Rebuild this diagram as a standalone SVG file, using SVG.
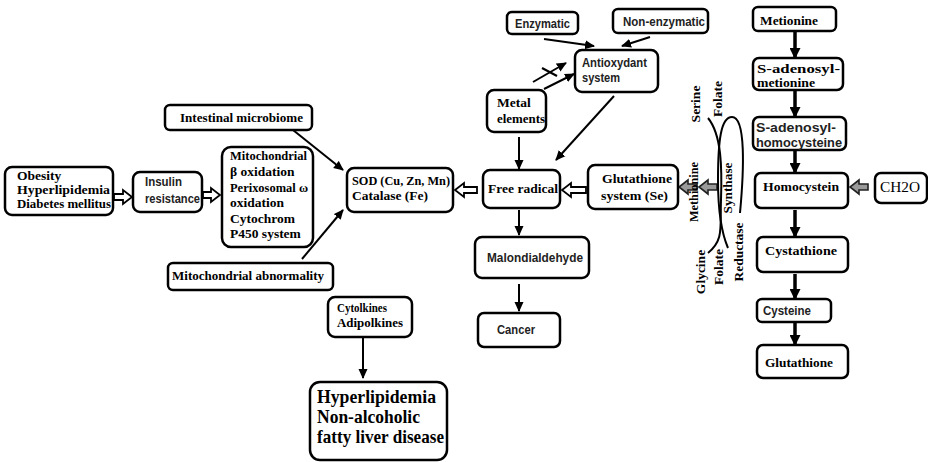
<svg xmlns="http://www.w3.org/2000/svg" width="928" height="462" viewBox="0 0 928 462">
<defs>
<marker id="ah" markerUnits="userSpaceOnUse" markerWidth="10" markerHeight="10" viewBox="0 0 10 10" refX="9" refY="5" orient="auto"><path d="M0,0.5 L10,5 L0,9.5 z" fill="#000"/></marker>
<marker id="ahb" markerUnits="userSpaceOnUse" markerWidth="11" markerHeight="11" viewBox="0 0 10 10" refX="9" refY="5" orient="auto"><path d="M0,0 L10,5 L0,10 z" fill="#000"/></marker>
</defs>
<style>
.box{fill:#fff;stroke:#000;stroke-width:2.5}
.s{font-family:"Liberation Serif","Times New Roman",serif;font-weight:bold;font-size:13.5px;fill:#000}
.a{font-family:"Liberation Sans",Arial,sans-serif;font-weight:bold;font-size:12.5px;fill:#222}
.ln{stroke:#000;stroke-width:2;fill:none;marker-end:url(#ah)}
.lb{stroke:#000;stroke-width:3.5;fill:none;marker-end:url(#ahb)}
.ho{fill:#fff;stroke:#000;stroke-width:1.8}
.hg{fill:#9a9a9a;stroke:#222;stroke-width:1.6}
.cv{fill:none;stroke:#000;stroke-width:2}
</style>
<rect width="928" height="462" fill="#fff"/>

<g id="connectors">
<line class="ln" x1="293" y1="130" x2="343" y2="170"/>
<line class="ln" x1="302" y1="259" x2="343" y2="210"/>
<line class="ln" x1="363" y1="338" x2="363" y2="378"/>
<line class="ln" x1="544" y1="39" x2="594" y2="46"/>
<line class="ln" x1="650" y1="37" x2="622" y2="46"/>
<line class="ln" x1="544" y1="89" x2="574" y2="74"/>
<line class="ln" x1="533" y1="82" x2="566" y2="63"/>
<line stroke="#000" stroke-width="2" x1="542" y1="68" x2="557" y2="76"/>
<line class="ln" x1="614" y1="96" x2="556" y2="160"/>
<line class="ln" x1="519" y1="137" x2="519" y2="169"/>
<line class="ln" x1="519" y1="210" x2="519" y2="235"/>
<line class="ln" x1="519" y1="284" x2="519" y2="311"/>
<line class="lb" x1="795" y1="32" x2="795" y2="58"/>
<line class="lb" x1="795" y1="91" x2="795" y2="117"/>
<line class="lb" x1="795" y1="150" x2="795" y2="173"/>
<line class="lb" x1="795" y1="210" x2="795" y2="237"/>
<line class="lb" x1="795" y1="274" x2="795" y2="299"/>
<line class="lb" x1="795" y1="323" x2="795" y2="345"/>
<polygon class="ho" points="114,194 123,194 123,190 132,197 123,204 123,200 114,200"/>
<polygon class="ho" points="203,192 211,192 211,188 220,195 211,202 211,198 203,198"/>
<polygon class="ho" points="477,187 464,187 464,183 455,190 464,197 464,193 477,193"/>
<polygon class="ho" points="586,187 571,187 571,183 562,190 571,197 571,193 586,193"/>
<polygon class="hg" points="717,184 708,184 708,180 699,187 708,194 708,190 717,190"/>
<polygon class="hg" points="697,184 688,184 688,180 679,187 688,194 688,190 697,190"/>
<polygon class="hg" points="868,184 859,184 859,180 850,187 859,194 859,190 868,190"/>
<path class="cv" d="M708,118 C722,135 722,170 721,200 C720,228 724,240 708,253"/>
<path class="cv" d="M740,213 C744,170 746,117 732,117 C721,117 718,140 718,180 C718,212 722,234 728,248"/>
</g>

<g id="n-obesity"><rect class="box" x="5" y="167" width="108" height="48" rx="7"/>
<text class="s" x="17" y="180">Obesity</text>
<text class="s" x="17" y="194" textLength="93" lengthAdjust="spacingAndGlyphs">Hyperlipidemia</text>
<text class="s" x="17" y="208" textLength="94" lengthAdjust="spacingAndGlyphs">Diabetes mellitus</text></g>

<g id="n-insulin"><rect class="box" x="133" y="172" width="69" height="40" rx="7"/>
<text class="a" x="145" y="186" textLength="37" lengthAdjust="spacingAndGlyphs">Insulin</text>
<text class="a" x="145" y="203" textLength="55" lengthAdjust="spacingAndGlyphs">resistance</text></g>

<g id="n-mito"><rect class="box" x="222" y="147" width="91" height="100" rx="9"/>
<text class="s" x="230" y="160" textLength="77" lengthAdjust="spacingAndGlyphs">Mitochondrial</text>
<text class="s" x="230" y="176">β oxidation</text>
<text class="s" x="230" y="192" textLength="78" lengthAdjust="spacingAndGlyphs">Perixosomal ω</text>
<text class="s" x="230" y="207">oxidation</text>
<text class="s" x="230" y="223">Cytochrom</text>
<text class="s" x="230" y="238">P450 system</text></g>

<g id="n-intestinal"><rect class="box" x="165" y="105" width="147" height="25" rx="5"/>
<text class="s" x="180" y="122" textLength="123" lengthAdjust="spacingAndGlyphs">Intestinal microbiome</text></g>

<g id="n-mitoab"><rect class="box" x="168" y="263" width="165" height="27" rx="5"/>
<text class="s" x="172" y="280" textLength="152" lengthAdjust="spacingAndGlyphs">Mitochondrial abnormality</text></g>

<g id="n-sod"><rect class="box" x="347" y="168" width="106" height="44" rx="7"/>
<text class="s" x="352" y="185" textLength="98" lengthAdjust="spacingAndGlyphs">SOD (Cu, Zn, Mn)</text>
<text class="s" x="352" y="200" textLength="76" lengthAdjust="spacingAndGlyphs">Catalase (Fe)</text></g>

<g id="n-free"><rect class="box" x="483" y="170" width="77" height="38" rx="7"/>
<text class="s" x="488" y="193" textLength="70" lengthAdjust="spacingAndGlyphs">Free radical</text></g>

<g id="n-metal"><rect class="box" x="487" y="90" width="59" height="42" rx="7"/>
<text class="s" x="497" y="107">Metal</text>
<text class="s" x="497" y="123" textLength="48" lengthAdjust="spacingAndGlyphs">elements</text></g>

<g id="n-antiox"><rect class="box" x="575" y="50" width="83" height="42" rx="7"/>
<text class="a" x="582" y="67" textLength="65" lengthAdjust="spacingAndGlyphs">Antioxydant</text>
<text class="a" x="582" y="82" textLength="38" lengthAdjust="spacingAndGlyphs">system</text></g>

<g id="n-enz"><rect class="box" x="507" y="12" width="71" height="22" rx="5"/>
<text class="a" x="515" y="28" textLength="55" lengthAdjust="spacingAndGlyphs">Enzymatic</text></g>

<g id="n-nonenz"><rect class="box" x="613" y="9" width="95" height="24" rx="5"/>
<text class="a" x="623" y="26" textLength="82" lengthAdjust="spacingAndGlyphs">Non-enzymatic</text></g>

<g id="n-malon"><rect class="box" x="475" y="237" width="114" height="41" rx="7"/>
<text class="a" x="487" y="262" textLength="96" lengthAdjust="spacingAndGlyphs">Malondialdehyde</text></g>

<g id="n-cancer"><rect class="box" x="478" y="313" width="82" height="34" rx="6"/>
<text class="a" x="497" y="334" textLength="38" lengthAdjust="spacingAndGlyphs">Cancer</text></g>

<g id="n-gluts"><rect class="box" x="588" y="165" width="90" height="44" rx="7"/>
<text class="s" x="602" y="183" textLength="70" lengthAdjust="spacingAndGlyphs">Glutathione</text>
<text class="s" x="601" y="200" textLength="67" lengthAdjust="spacingAndGlyphs">system (Se)</text></g>

<g id="n-cycle">
<text class="s" transform="translate(700,104) rotate(-90)" text-anchor="middle">Serine</text>
<text class="s" transform="translate(722,99) rotate(-90)" text-anchor="middle">Folate</text>
<text class="s" transform="translate(698,192) rotate(-90)" text-anchor="middle" textLength="60" lengthAdjust="spacingAndGlyphs">Methionine</text>
<text class="s" transform="translate(732,188) rotate(-90)" text-anchor="middle" textLength="51" lengthAdjust="spacingAndGlyphs">Synthase</text>
<text class="s" transform="translate(705,272) rotate(-90)" text-anchor="middle">Glycine</text>
<text class="s" transform="translate(723,267) rotate(-90)" text-anchor="middle">Folate</text>
<text class="s" transform="translate(743,252) rotate(-90)" text-anchor="middle" textLength="59" lengthAdjust="spacingAndGlyphs">Reductase</text>
</g>

<g id="n-metionine"><rect class="box" x="753" y="7" width="83" height="24" rx="5"/>
<text class="s" x="760" y="25" textLength="58" lengthAdjust="spacingAndGlyphs">Metionine</text></g>

<g id="n-sam"><rect class="box" x="753" y="58" width="90" height="32" rx="6"/>
<text class="s" x="757" y="73" textLength="83" lengthAdjust="spacingAndGlyphs">S-adenosyl-</text>
<text class="s" x="757" y="87" textLength="58" lengthAdjust="spacingAndGlyphs">metionine</text></g>

<g id="n-sah"><rect class="box" x="753" y="117" width="93" height="33" rx="6"/>
<text class="a" x="756" y="132" textLength="80" lengthAdjust="spacingAndGlyphs">S-adenosyl-</text>
<text class="a" x="756" y="147" textLength="86" lengthAdjust="spacingAndGlyphs">homocysteine</text></g>

<g id="n-homocys"><rect class="box" x="755" y="173" width="93" height="35" rx="6"/>
<text class="s" x="763" y="191" textLength="76" lengthAdjust="spacingAndGlyphs">Homocystein</text></g>

<g id="n-ch2o"><rect class="box" x="875" y="173" width="52" height="30" rx="6"/>
<text class="s" x="880" y="192" style="font-weight:normal;font-size:15px" textLength="40" lengthAdjust="spacingAndGlyphs">CH2O</text></g>

<g id="n-cystathione"><rect class="box" x="757" y="237" width="91" height="35" rx="6"/>
<text class="s" x="765" y="255" textLength="72" lengthAdjust="spacingAndGlyphs">Cystathione</text></g>

<g id="n-cysteine"><rect class="box" x="757" y="299" width="74" height="23" rx="5"/>
<text class="a" x="763" y="315" textLength="48" lengthAdjust="spacingAndGlyphs">Cysteine</text></g>

<g id="n-glutathione"><rect class="box" x="757" y="345" width="91" height="33" rx="6"/>
<text class="s" x="765" y="367" textLength="68" lengthAdjust="spacingAndGlyphs">Glutathione</text></g>

<g id="n-cytokines"><rect class="box" x="328" y="297" width="84" height="40" rx="7"/>
<text class="s" x="337" y="312" textLength="50" lengthAdjust="spacingAndGlyphs">Cytolkines</text>
<text class="s" x="337" y="327" textLength="66" lengthAdjust="spacingAndGlyphs">Adipolkines</text></g>

<g id="n-nafld"><rect class="box" x="310" y="382" width="137" height="78" rx="10"/>
<text class="s" x="317" y="403" style="font-size:19px" textLength="119" lengthAdjust="spacingAndGlyphs">Hyperlipidemia</text>
<text class="s" x="317" y="423" style="font-size:19px" textLength="103" lengthAdjust="spacingAndGlyphs">Non-alcoholic</text>
<text class="s" x="317" y="443" style="font-size:19px" textLength="127" lengthAdjust="spacingAndGlyphs">fatty liver disease</text></g>
</svg>
